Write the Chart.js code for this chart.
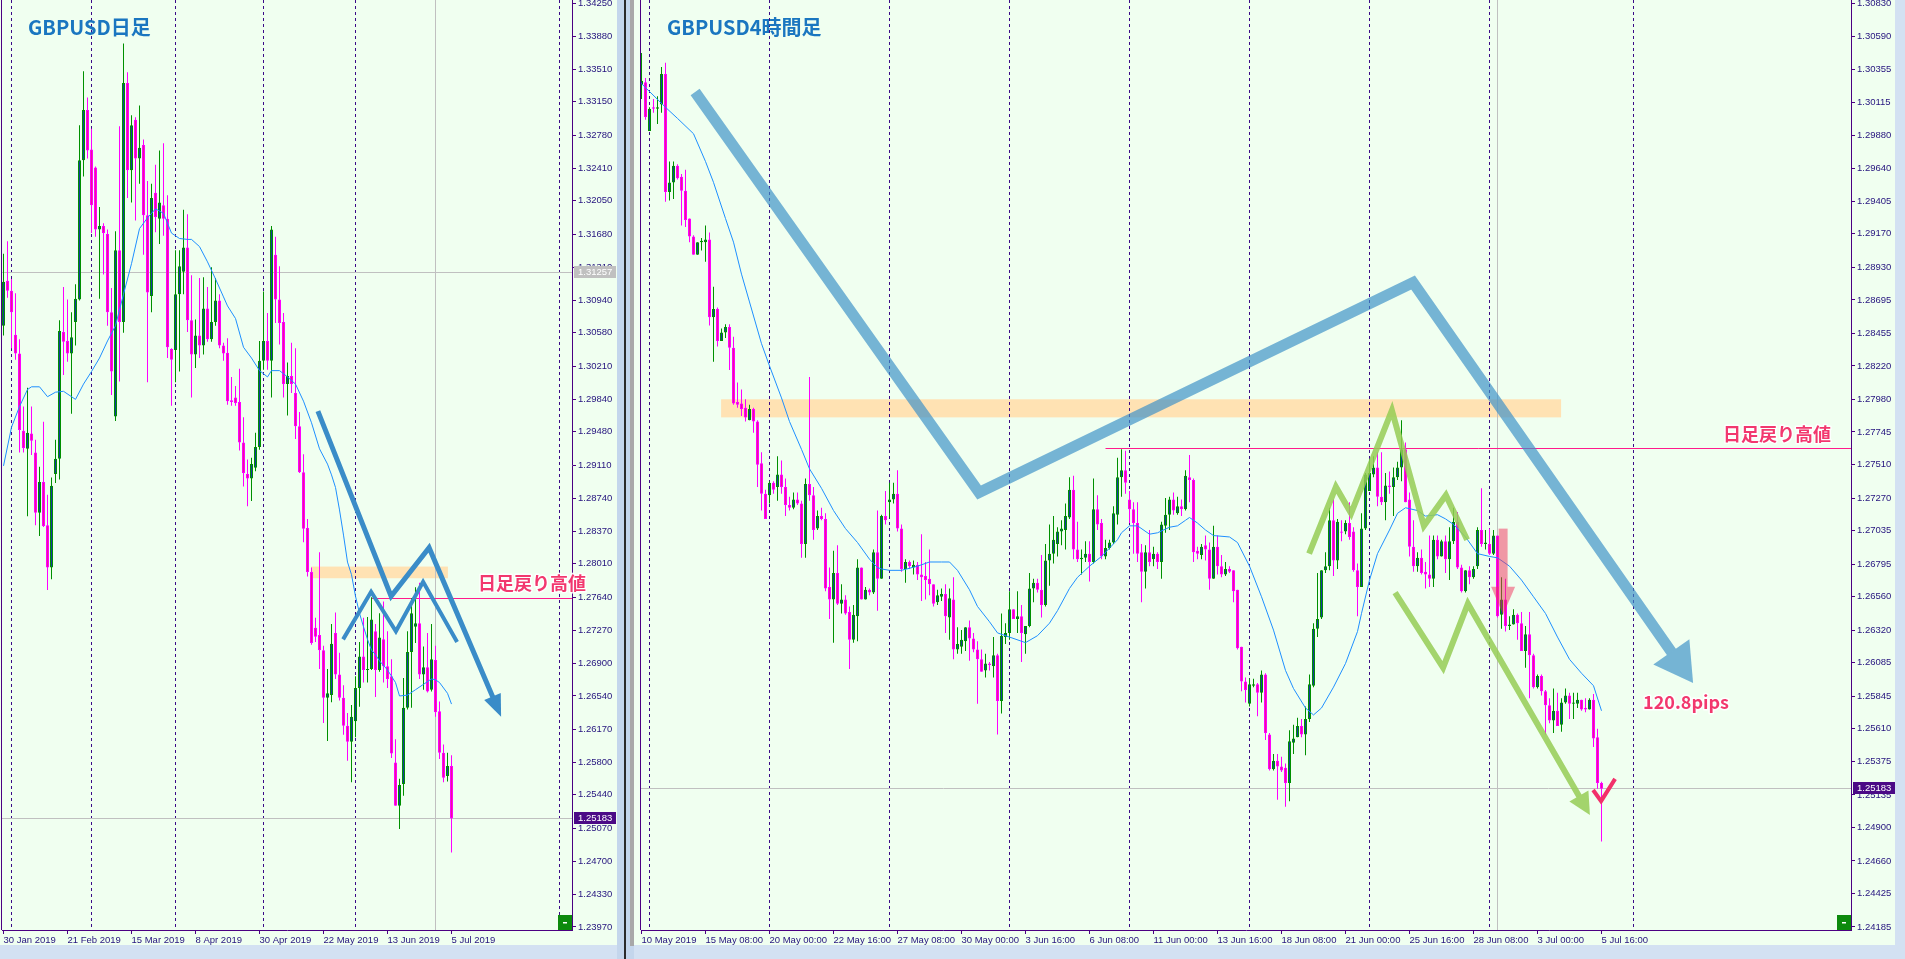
<!DOCTYPE html>
<html>
<head>
<meta charset="utf-8">
<script src="https://cdn.jsdelivr.net/npm/chart.js@4"></script>
<style>
  html, body { margin: 0; padding: 0; width: 1905px; height: 959px; overflow: hidden; background: #d3e1f2; }
  canvas { position: absolute; top: 0; background: #f0fff0; }
  .strip { position: absolute; }
</style>
</head>
<body>
<div class="strip" style="left:617px;top:0;width:17px;height:959px;background:#c4d6ec"></div>
<div class="strip" style="left:624px;top:0;width:2px;height:959px;background:#2a2a2a"></div>
<div class="strip" style="left:630px;top:0;width:4px;height:946px;background:#a8a8a8"></div>
<canvas id="day" width="617" height="945" style="left:0px"></canvas>
<canvas id="h4" width="1261" height="945" style="left:634px"></canvas>
<script>
// 1. Daten: linker Chart, GBPUSD Tageskerzen (30 Jan 2019 – 5 Jul 2019)
const dayLabels = ['30 Jan 2019', '21 Feb 2019', '15 Mar 2019', '8 Apr 2019', '30 Apr 2019', '22 May 2019', '13 Jun 2019', '5 Jul 2019'];
const dayLabelIdx = [0, 16, 32, 48, 64, 80, 96, 112];
const dayPriceTicks = [1.34250, 1.33880, 1.33510, 1.33150, 1.32780, 1.32410, 1.32050, 1.31680, 1.31310, 1.30940, 1.30580, 1.30210, 1.29840, 1.29480, 1.29110, 1.28740, 1.28370, 1.28010, 1.27640, 1.27270, 1.26900, 1.26540, 1.26170, 1.25800, 1.25440, 1.25070, 1.24700, 1.24330, 1.23970];

const dayOpen = [
  1.3066, 1.3116, 1.3105, 1.3056, 1.3035, 1.2949, 1.2929, 1.2946, 1.2925, 1.2858,
  1.2892, 1.2844, 1.2797, 1.2901, 1.2918, 1.3059, 1.3049, 1.3035, 1.3070, 1.3095,
  1.3250, 1.3306, 1.3262, 1.3242, 1.3173, 1.3177, 1.3168, 1.3081, 1.2965, 1.3150,
  1.3070, 1.3336, 1.3239, 1.3295, 1.3252, 1.3267, 1.3189, 1.3099, 1.3214, 1.3185,
  1.3200, 1.3185, 1.3040, 1.3039, 1.3101, 1.3126, 1.3153, 1.3072, 1.3034, 1.3055,
  1.3044, 1.3085, 1.3051, 1.3070, 1.3094, 1.3044, 1.3036, 1.2983, 1.2986, 1.2981,
  1.2936, 1.2901, 1.2896, 1.2908, 1.2931, 1.3027, 1.3049, 1.3027, 1.3145, 1.3095,
  1.3070, 1.3001, 1.3010, 1.2991, 1.2954, 1.2903, 1.2841, 1.2792, 1.2730, 1.2722,
  1.2705, 1.2652, 1.2655, 1.2724, 1.2678, 1.2652, 1.2621, 1.2603, 1.2626, 1.2663,
  1.2698, 1.2683, 1.2684, 1.2726, 1.2683, 1.2717, 1.2687, 1.2676, 1.2580, 1.2532,
  1.2556, 1.2641, 1.2703, 1.2731, 1.2735, 1.2678, 1.2686, 1.2661, 1.2694, 1.2637,
  1.2591, 1.2565, 1.2576];
const dayHigh = [
  1.3146, 1.3160, 1.3118, 1.3102, 1.3051, 1.2976, 1.2997, 1.2976, 1.2939, 1.2909,
  1.2959, 1.2878, 1.2897, 1.2939, 1.3072, 1.3109, 1.3095, 1.3081, 1.3112, 1.3289,
  1.3349, 1.3320, 1.3285, 1.3243, 1.3198, 1.3180, 1.3173, 1.3108, 1.3171, 1.3288,
  1.3380, 1.3348, 1.3300, 1.3298, 1.3311, 1.3273, 1.3227, 1.3224, 1.3245, 1.3261,
  1.3269, 1.3211, 1.3041, 1.3150, 1.3150, 1.3195, 1.3190, 1.3122, 1.3073, 1.3119,
  1.3120, 1.3109, 1.3131, 1.3119, 1.3101, 1.3047, 1.3052, 1.3009, 1.2999, 1.3018,
  1.2964, 1.2917, 1.2919, 1.2947, 1.3049, 1.3104, 1.3080, 1.3177, 1.3165, 1.3132,
  1.3080, 1.3025, 1.3047, 1.3041, 1.2970, 1.2923, 1.2851, 1.2797, 1.2741, 1.2814,
  1.2710, 1.2684, 1.2734, 1.2747, 1.2702, 1.2666, 1.2635, 1.2644, 1.2676, 1.2714,
  1.2741, 1.2742, 1.2764, 1.2734, 1.2746, 1.2759, 1.2726, 1.2695, 1.2606, 1.2562,
  1.2674, 1.2726, 1.2763, 1.2775, 1.2780, 1.2709, 1.2724, 1.2734, 1.2710, 1.2648,
  1.2600, 1.2591, 1.2588];
const dayLow = [
  1.3055, 1.3097, 1.3041, 1.3028, 1.2925, 1.2925, 1.2854, 1.2922, 1.2844, 1.2832,
  1.2842, 1.2772, 1.2784, 1.2891, 1.2895, 1.3011, 1.3026, 1.2968, 1.3044, 1.3094,
  1.3232, 1.3252, 1.3169, 1.3165, 1.3096, 1.3123, 1.3066, 1.2989, 1.2960, 1.3004,
  1.3058, 1.3208, 1.3203, 1.3183, 1.3224, 1.3145, 1.3003, 1.3081, 1.3170, 1.3157,
  1.3166, 1.3030, 1.2977, 1.3003, 1.3015, 1.3101, 1.3059, 1.2986, 1.3019, 1.3030,
  1.3034, 1.3048, 1.3048, 1.3066, 1.3041, 1.3027, 1.2978, 1.2977, 1.2977, 1.2927,
  1.2887, 1.2865, 1.2871, 1.2904, 1.2928, 1.3017, 1.3017, 1.2986, 1.3069, 1.3045,
  1.2986, 1.2966, 1.2991, 1.2940, 1.2902, 1.2825, 1.2787, 1.2711, 1.2714, 1.2684,
  1.2624, 1.2604, 1.2647, 1.2673, 1.2649, 1.2611, 1.2582, 1.2558, 1.2608, 1.2642,
  1.2669, 1.2669, 1.2683, 1.2653, 1.2681, 1.2669, 1.2663, 1.2585, 1.2532, 1.2506,
  1.2543, 1.2639, 1.2641, 1.2713, 1.2673, 1.2661, 1.2658, 1.2659, 1.2631, 1.2584,
  1.2558, 1.2559, 1.2480];
const dayClose = [
  1.3115, 1.3105, 1.3081, 1.3035, 1.2950, 1.2930, 1.2947, 1.2938, 1.2858, 1.2892,
  1.2843, 1.2797, 1.2888, 1.2918, 1.3060, 1.3048, 1.3035, 1.3053, 1.3096, 1.3250,
  1.3306, 1.3261, 1.3200, 1.3173, 1.3177, 1.3169, 1.3081, 1.3015, 1.3150, 1.3070,
  1.3336, 1.3239, 1.3289, 1.3252, 1.3264, 1.3189, 1.3103, 1.3208, 1.3187, 1.3203,
  1.3185, 1.3042, 1.3028, 1.3101, 1.3132, 1.3153, 1.3072, 1.3034, 1.3055, 1.3044,
  1.3085, 1.3051, 1.3070, 1.3094, 1.3044, 1.3035, 1.2982, 1.2981, 1.2980, 1.2936,
  1.2902, 1.2896, 1.2912, 1.2931, 1.3027, 1.3049, 1.3027, 1.3173, 1.3095, 1.3069,
  1.3001, 1.3010, 1.3001, 1.2954, 1.2903, 1.2840, 1.2792, 1.2713, 1.2720, 1.2705,
  1.2652, 1.2657, 1.2712, 1.2678, 1.2652, 1.2621, 1.2603, 1.2631, 1.2663, 1.2698,
  1.2683, 1.2684, 1.2739, 1.2683, 1.2719, 1.2687, 1.2673, 1.2590, 1.2532, 1.2555,
  1.2641, 1.2703, 1.2746, 1.2735, 1.2678, 1.2686, 1.2659, 1.2695, 1.2636, 1.2591,
  1.2563, 1.2576, 1.2518];

// gleitender Durchschnitt (Kerzenindex / Kurs)
const dayMaIdx = [0, 2, 4, 6, 7, 9, 11, 13, 15, 17, 18, 20, 22, 24, 26, 28, 30, 32, 34, 36, 38, 40, 42, 44, 46, 47, 49, 51, 53, 55, 56, 58, 60, 62, 64, 66, 67, 69, 71, 73, 75, 77, 79, 81, 82, 83, 84, 85, 86, 87, 88, 89, 90, 91, 92, 93, 94, 96, 98, 99, 101, 103, 105, 107, 108, 109, 111, 112];
const dayMaVal = [1.2910, 1.2953, 1.2976, 1.2995, 1.2998, 1.2998, 1.2987, 1.2992, 1.2993, 1.2987, 1.2984, 1.3001, 1.3015, 1.3030, 1.3049, 1.3066, 1.3101, 1.3135, 1.3174, 1.3186, 1.3196, 1.3191, 1.3169, 1.3163, 1.3162, 1.3162, 1.3154, 1.3137, 1.3118, 1.3098, 1.3088, 1.3074, 1.3042, 1.3030, 1.3016, 1.3009, 1.3016, 1.3016, 1.3009, 1.3001, 1.2982, 1.2958, 1.2929, 1.2912, 1.2900, 1.2886, 1.2861, 1.2833, 1.2803, 1.2789, 1.2765, 1.2746, 1.2731, 1.2717, 1.2705, 1.2700, 1.2693, 1.2683, 1.2669, 1.2654, 1.2655, 1.2661, 1.2667, 1.2673, 1.2672, 1.2669, 1.2657, 1.2645];

// Zeichnungen im Tageschart (Kerzenindex / Kurs)
const daySeparatorIdx = [2, 22, 43, 65, 88, 139];
const dayArrowIdx = [78.6, 96.9, 106.4, 124.4];
const dayArrowPrice = [1.2971, 1.2765, 1.2819, 1.2631];
const dayZigIdx = [84.9, 91.9, 98.1, 104.9, 113.4];
const dayZigPrice = [1.2717, 1.2770, 1.2726, 1.2781, 1.2714];
const dayBandIdx = [76.9, 111.1];
const dayResistStart = 92;
const dayNoteAt = [118.6, 1.2779];

// 2. Daten: rechter Chart, GBPUSD 4-Stunden-Kerzen (10 May 16:00 – 5 Jul 16:00)
const h4Labels = ['10 May 2019', '15 May 08:00', '20 May 00:00', '22 May 16:00', '27 May 08:00', '30 May 00:00', '3 Jun 16:00', '6 Jun 08:00', '11 Jun 00:00', '13 Jun 16:00', '18 Jun 08:00', '21 Jun 00:00', '25 Jun 16:00', '28 Jun 08:00', '3 Jul 00:00', '5 Jul 16:00'];
const h4LabelIdx = [0, 16, 32, 48, 64, 80, 96, 112, 128, 144, 160, 176, 192, 208, 224, 240];
const h4PriceTicks = [1.30830, 1.30590, 1.30355, 1.30115, 1.29880, 1.29640, 1.29405, 1.29170, 1.28930, 1.28695, 1.28455, 1.28220, 1.27980, 1.27745, 1.27510, 1.27270, 1.27035, 1.26795, 1.26560, 1.26320, 1.26085, 1.25845, 1.25610, 1.25375, 1.25135, 1.24900, 1.24660, 1.24425, 1.24185];

const h4Open = [
  1.3024, 1.3026, 1.2991, 1.3008, 1.3007, 1.3010, 1.3032, 1.2947, 1.2954, 1.2966,
  1.2958, 1.2948, 1.2928, 1.2915, 1.2902, 1.2911, 1.2911, 1.2913, 1.2857, 1.2863,
  1.2840, 1.2846, 1.2850, 1.2835, 1.2796, 1.2795, 1.2792, 1.2783, 1.2791, 1.2782,
  1.2752, 1.2730, 1.2729, 1.2738, 1.2735, 1.2744, 1.2735, 1.2722, 1.2720, 1.2726,
  1.2723, 1.2694, 1.2737, 1.2729, 1.2705, 1.2714, 1.2712, 1.2663, 1.2654, 1.2673,
  1.2651, 1.2654, 1.2645, 1.2625, 1.2642, 1.2677, 1.2654, 1.2661, 1.2659, 1.2688,
  1.2669, 1.2714, 1.2724, 1.2726, 1.2730, 1.2705, 1.2676, 1.2681, 1.2677, 1.2679,
  1.2672, 1.2671, 1.2669, 1.2665, 1.2652, 1.2656, 1.2658, 1.2641, 1.2654, 1.2618,
  1.2620, 1.2624, 1.2634, 1.2626, 1.2618, 1.2611, 1.2603, 1.2608, 1.2606, 1.2614,
  1.2581, 1.2627, 1.2630, 1.2647, 1.2640, 1.2642, 1.2629, 1.2635, 1.2662, 1.2666,
  1.2661, 1.2650, 1.2682, 1.2687, 1.2694, 1.2703, 1.2704, 1.2713, 1.2733, 1.2690,
  1.2683, 1.2684, 1.2687, 1.2681, 1.2719, 1.2709, 1.2685, 1.2691, 1.2695, 1.2715,
  1.2742, 1.2747, 1.2726, 1.2719, 1.2709, 1.2688, 1.2674, 1.2688, 1.2683, 1.2687,
  1.2681, 1.2707, 1.2715, 1.2726, 1.2716, 1.2721, 1.2719, 1.2742, 1.2740, 1.2689,
  1.2686, 1.2693, 1.2690, 1.2669, 1.2692, 1.2678, 1.2672, 1.2676, 1.2675, 1.2661,
  1.2620, 1.2595, 1.2579, 1.2592, 1.2593, 1.2587, 1.2600, 1.2557, 1.2532, 1.2538,
  1.2534, 1.2533, 1.2522, 1.2551, 1.2555, 1.2563, 1.2557, 1.2568, 1.2592, 1.2633,
  1.2641, 1.2675, 1.2678, 1.2711, 1.2682, 1.2703, 1.2703, 1.2709, 1.2703, 1.2675,
  1.2663, 1.2705, 1.2732, 1.2744, 1.2749, 1.2728, 1.2724, 1.2736, 1.2735, 1.2742,
  1.2749, 1.2762, 1.2726, 1.2692, 1.2678, 1.2684, 1.2674, 1.2672, 1.2669, 1.2697,
  1.2685, 1.2696, 1.2683, 1.2696, 1.2710, 1.2677, 1.2660, 1.2675, 1.2670, 1.2678,
  1.2704, 1.2694, 1.2694, 1.2687, 1.2700, 1.2643, 1.2654, 1.2635, 1.2636, 1.2643,
  1.2637, 1.2617, 1.2629, 1.2614, 1.2591, 1.2599, 1.2588, 1.2578, 1.2567, 1.2574,
  1.2564, 1.2580, 1.2585, 1.2579, 1.2579, 1.2582, 1.2576, 1.2575, 1.2582, 1.2555,
  1.2522];
const h4High = [
  1.3047, 1.3029, 1.3008, 1.3014, 1.3016, 1.3037, 1.3040, 1.2969, 1.2969, 1.2967,
  1.2960, 1.2963, 1.2928, 1.2916, 1.2911, 1.2914, 1.2923, 1.2918, 1.2879, 1.2864,
  1.2849, 1.2852, 1.2852, 1.2843, 1.2810, 1.2805, 1.2798, 1.2794, 1.2792, 1.2783,
  1.2760, 1.2733, 1.2739, 1.2739, 1.2757, 1.2754, 1.2741, 1.2728, 1.2731, 1.2731,
  1.2725, 1.2741, 1.2814, 1.2735, 1.2718, 1.2720, 1.2716, 1.2677, 1.2689, 1.2693,
  1.2665, 1.2657, 1.2649, 1.2650, 1.2683, 1.2677, 1.2663, 1.2662, 1.2690, 1.2718,
  1.2715, 1.2732, 1.2738, 1.2738, 1.2747, 1.2708, 1.2683, 1.2682, 1.2682, 1.2681,
  1.2701, 1.2681, 1.2690, 1.2665, 1.2661, 1.2662, 1.2665, 1.2662, 1.2670, 1.2634,
  1.2632, 1.2634, 1.2639, 1.2630, 1.2624, 1.2618, 1.2615, 1.2609, 1.2627, 1.2615,
  1.2644, 1.2637, 1.2660, 1.2647, 1.2660, 1.2650, 1.2635, 1.2673, 1.2669, 1.2669,
  1.2686, 1.2694, 1.2708, 1.2714, 1.2706, 1.2711, 1.2723, 1.2742, 1.2743, 1.2710,
  1.2690, 1.2696, 1.2696, 1.2741, 1.2729, 1.2712, 1.2697, 1.2697, 1.2721, 1.2756,
  1.2762, 1.2761, 1.2732, 1.2724, 1.2724, 1.2694, 1.2693, 1.2704, 1.2692, 1.2688,
  1.2710, 1.2727, 1.2728, 1.2731, 1.2728, 1.2726, 1.2747, 1.2758, 1.2741, 1.2692,
  1.2694, 1.2700, 1.2695, 1.2707, 1.2700, 1.2686, 1.2681, 1.2678, 1.2675, 1.2661,
  1.2620, 1.2598, 1.2597, 1.2597, 1.2594, 1.2603, 1.2601, 1.2558, 1.2543, 1.2543,
  1.2541, 1.2536, 1.2560, 1.2564, 1.2569, 1.2568, 1.2577, 1.2600, 1.2637, 1.2673,
  1.2675, 1.2688, 1.2720, 1.2726, 1.2712, 1.2711, 1.2711, 1.2724, 1.2706, 1.2680,
  1.2716, 1.2745, 1.2755, 1.2757, 1.2760, 1.2760, 1.2745, 1.2746, 1.2749, 1.2753,
  1.2783, 1.2767, 1.2731, 1.2711, 1.2688, 1.2690, 1.2681, 1.2700, 1.2700, 1.2700,
  1.2697, 1.2700, 1.2706, 1.2720, 1.2717, 1.2679, 1.2675, 1.2678, 1.2678, 1.2706,
  1.2734, 1.2704, 1.2705, 1.2704, 1.2700, 1.2670, 1.2669, 1.2642, 1.2647, 1.2644,
  1.2645, 1.2635, 1.2645, 1.2615, 1.2600, 1.2600, 1.2589, 1.2583, 1.2590, 1.2587,
  1.2583, 1.2590, 1.2587, 1.2587, 1.2587, 1.2582, 1.2583, 1.2583, 1.2586, 1.2561,
  1.2523];
const h4Low = [
  1.3014, 1.2999, 1.2991, 1.3004, 1.2996, 1.3004, 1.2940, 1.2941, 1.2942, 1.2956,
  1.2923, 1.2922, 1.2911, 1.2902, 1.2902, 1.2905, 1.2897, 1.2851, 1.2825, 1.2836,
  1.2840, 1.2842, 1.2819, 1.2794, 1.2792, 1.2786, 1.2782, 1.2783, 1.2774, 1.2735,
  1.2718, 1.2712, 1.2723, 1.2730, 1.2725, 1.2730, 1.2714, 1.2718, 1.2719, 1.2722,
  1.2684, 1.2684, 1.2725, 1.2697, 1.2704, 1.2711, 1.2660, 1.2640, 1.2623, 1.2650,
  1.2644, 1.2643, 1.2604, 1.2623, 1.2624, 1.2654, 1.2654, 1.2657, 1.2658, 1.2646,
  1.2669, 1.2708, 1.2713, 1.2723, 1.2703, 1.2674, 1.2666, 1.2676, 1.2672, 1.2668,
  1.2653, 1.2654, 1.2657, 1.2649, 1.2650, 1.2653, 1.2630, 1.2625, 1.2611, 1.2615,
  1.2615, 1.2617, 1.2610, 1.2616, 1.2579, 1.2602, 1.2598, 1.2603, 1.2598, 1.2557,
  1.2572, 1.2622, 1.2625, 1.2640, 1.2630, 1.2609, 1.2615, 1.2634, 1.2652, 1.2659,
  1.2641, 1.2649, 1.2664, 1.2680, 1.2685, 1.2693, 1.2690, 1.2712, 1.2683, 1.2681,
  1.2672, 1.2681, 1.2667, 1.2680, 1.2704, 1.2683, 1.2683, 1.2690, 1.2694, 1.2708,
  1.2728, 1.2730, 1.2709, 1.2687, 1.2681, 1.2652, 1.2662, 1.2678, 1.2678, 1.2676,
  1.2669, 1.2702, 1.2704, 1.2715, 1.2715, 1.2714, 1.2718, 1.2724, 1.2681, 1.2683,
  1.2683, 1.2682, 1.2661, 1.2669, 1.2672, 1.2670, 1.2671, 1.2673, 1.2652, 1.2618,
  1.2588, 1.2580, 1.2577, 1.2591, 1.2570, 1.2580, 1.2553, 1.2531, 1.2531, 1.2510,
  1.2530, 1.2505, 1.2509, 1.2543, 1.2555, 1.2555, 1.2542, 1.2566, 1.2591, 1.2627,
  1.2640, 1.2673, 1.2675, 1.2671, 1.2676, 1.2696, 1.2701, 1.2697, 1.2674, 1.2642,
  1.2663, 1.2704, 1.2732, 1.2742, 1.2721, 1.2722, 1.2711, 1.2730, 1.2714, 1.2740,
  1.2739, 1.2724, 1.2685, 1.2674, 1.2674, 1.2672, 1.2662, 1.2663, 1.2663, 1.2683,
  1.2685, 1.2673, 1.2668, 1.2694, 1.2676, 1.2659, 1.2659, 1.2665, 1.2669, 1.2676,
  1.2692, 1.2690, 1.2686, 1.2686, 1.2641, 1.2633, 1.2631, 1.2632, 1.2636, 1.2625,
  1.2617, 1.2605, 1.2583, 1.2590, 1.2590, 1.2585, 1.2557, 1.2565, 1.2558, 1.2563,
  1.2559, 1.2579, 1.2568, 1.2568, 1.2576, 1.2574, 1.2573, 1.2575, 1.2548, 1.2518,
  1.2480];
const h4Close = [
  1.3027, 1.3001, 1.3007, 1.3007, 1.3008, 1.3032, 1.2947, 1.2954, 1.2966, 1.2957,
  1.2948, 1.2927, 1.2915, 1.2902, 1.2911, 1.2912, 1.2913, 1.2857, 1.2863, 1.2840,
  1.2846, 1.2850, 1.2835, 1.2795, 1.2794, 1.2791, 1.2785, 1.2791, 1.2782, 1.2751,
  1.2730, 1.2712, 1.2738, 1.2733, 1.2744, 1.2735, 1.2722, 1.2720, 1.2726, 1.2723,
  1.2694, 1.2737, 1.2729, 1.2704, 1.2714, 1.2712, 1.2662, 1.2654, 1.2673, 1.2651,
  1.2654, 1.2644, 1.2625, 1.2643, 1.2677, 1.2654, 1.2661, 1.2659, 1.2688, 1.2669,
  1.2714, 1.2711, 1.2726, 1.2730, 1.2705, 1.2676, 1.2681, 1.2678, 1.2679, 1.2672,
  1.2670, 1.2668, 1.2665, 1.2651, 1.2657, 1.2658, 1.2642, 1.2655, 1.2618, 1.2622,
  1.2625, 1.2634, 1.2626, 1.2618, 1.2611, 1.2602, 1.2608, 1.2607, 1.2614, 1.2581,
  1.2628, 1.2630, 1.2647, 1.2640, 1.2642, 1.2630, 1.2635, 1.2662, 1.2666, 1.2661,
  1.2650, 1.2682, 1.2687, 1.2697, 1.2703, 1.2705, 1.2714, 1.2733, 1.2690, 1.2683,
  1.2684, 1.2687, 1.2681, 1.2719, 1.2708, 1.2685, 1.2691, 1.2695, 1.2716, 1.2742,
  1.2747, 1.2738, 1.2719, 1.2709, 1.2687, 1.2674, 1.2688, 1.2681, 1.2687, 1.2681,
  1.2708, 1.2715, 1.2726, 1.2718, 1.2721, 1.2719, 1.2743, 1.2740, 1.2688, 1.2687,
  1.2692, 1.2690, 1.2669, 1.2692, 1.2678, 1.2672, 1.2676, 1.2674, 1.2660, 1.2619,
  1.2595, 1.2589, 1.2593, 1.2593, 1.2587, 1.2600, 1.2558, 1.2532, 1.2538, 1.2534,
  1.2531, 1.2522, 1.2552, 1.2554, 1.2563, 1.2557, 1.2568, 1.2593, 1.2633, 1.2640,
  1.2675, 1.2678, 1.2711, 1.2682, 1.2710, 1.2702, 1.2709, 1.2699, 1.2675, 1.2663,
  1.2705, 1.2744, 1.2745, 1.2749, 1.2728, 1.2724, 1.2736, 1.2735, 1.2742, 1.2749,
  1.2762, 1.2724, 1.2692, 1.2678, 1.2684, 1.2673, 1.2672, 1.2669, 1.2697, 1.2685,
  1.2696, 1.2683, 1.2696, 1.2710, 1.2677, 1.2660, 1.2675, 1.2670, 1.2676, 1.2704,
  1.2694, 1.2695, 1.2687, 1.2700, 1.2642, 1.2654, 1.2635, 1.2636, 1.2643, 1.2637,
  1.2617, 1.2629, 1.2614, 1.2591, 1.2599, 1.2588, 1.2578, 1.2567, 1.2574, 1.2563,
  1.2580, 1.2585, 1.2579, 1.2580, 1.2582, 1.2575, 1.2575, 1.2582, 1.2554, 1.2522,
  1.2518];

const h4MaIdx = [0, 6, 9, 13, 16, 18, 21, 23, 25, 27, 30, 32, 35, 37, 40, 42, 45, 48, 51, 54, 57, 59, 60, 62, 65, 69, 72, 75, 77, 79, 82, 84, 87, 89, 92, 96, 99, 102, 104, 107, 109, 112, 115, 118, 119, 120, 122, 124, 127, 129, 132, 134, 136, 137, 139, 141, 143, 147, 149, 152, 155, 158, 161, 163, 166, 168, 170, 173, 176, 179, 180, 182, 184, 187, 189, 191, 194, 196, 199, 201, 203, 206, 209, 212, 214, 217, 220, 223, 226, 229, 232, 235, 238, 240];
const h4MaVal = [1.3025, 1.3008, 1.3000, 1.2989, 1.2969, 1.2954, 1.2928, 1.2911, 1.2888, 1.2868, 1.2838, 1.2822, 1.2799, 1.2782, 1.2762, 1.2748, 1.2734, 1.2718, 1.2705, 1.2695, 1.2683, 1.2677, 1.2676, 1.2675, 1.2675, 1.2678, 1.2681, 1.2681, 1.2681, 1.2675, 1.2661, 1.2649, 1.2638, 1.2630, 1.2627, 1.2623, 1.2628, 1.2637, 1.2646, 1.2662, 1.2670, 1.2678, 1.2685, 1.2694, 1.2697, 1.2702, 1.2707, 1.2707, 1.2701, 1.2702, 1.2706, 1.2707, 1.2711, 1.2713, 1.2709, 1.2704, 1.2700, 1.2699, 1.2695, 1.2678, 1.2656, 1.2632, 1.2603, 1.2590, 1.2576, 1.2571, 1.2576, 1.2591, 1.2608, 1.2631, 1.2644, 1.2668, 1.2687, 1.2704, 1.2716, 1.2720, 1.2718, 1.2714, 1.2715, 1.2712, 1.2708, 1.2699, 1.2687, 1.2685, 1.2684, 1.2678, 1.2668, 1.2656, 1.2644, 1.2627, 1.2611, 1.2601, 1.2592, 1.2574];

// Zeichnungen im 4h-Chart
const h4SeparatorIdx = [2, 32, 62, 92, 122, 152, 182, 212, 248];
const h4ArrowIdx = [13.4, 84.4, 192.9, 262.9];
const h4ArrowPrice = [1.3019, 1.2731, 1.2882, 1.2594];
const h4UpperIdx = [166.9, 173.6, 177.4, 187.6, 195.6, 201.1, 206.4];
const h4UpperPrice = [1.2687, 1.2735, 1.2716, 1.2790, 1.2707, 1.2729, 1.2697];
const h4LowerIdx = [188.4, 200.4, 206.6, 237.1];
const h4LowerPrice = [1.2659, 1.2605, 1.2651, 1.2499];
const h4DropIdx = 215.4;
const h4DropPrice = [1.2705, 1.2643];
const h4CheckIdx = [237.9, 239.9, 243.4];
const h4CheckPrice = [1.2517, 1.2509, 1.2525];
const h4BandIdx = [19.9, 229.9];
const h4ResistStart = 116;
const h4NoteAt = [270.4, 1.2773];
const h4PipsAt = [250.4, 1.2580];

// gemeinsame Werte
const bandPrice = [1.2785, 1.2798];   // orangene Zone
const resistPrice = 1.2763;           // 日足戻り高値
const lastPrice = 1.25183;
const dayMarkPrice = 1.31257;

// 3. Farben und Hilfsfunktionen
const AXIS = '#4b0082';
const LABEL = '#24137e';
const SEPARATOR = '#3a0a88';
const TICK_FONT = { family: 'Liberation Sans', size: 9.5 };

function P(chart, i, p) {
  return [chart.scales.x.getPixelForValue(i), chart.scales.y.getPixelForValue(p)];
}

function pathLine(ctx, pts, color, width) {
  ctx.beginPath();
  pts.forEach((q, k) => k ? ctx.lineTo(q[0], q[1]) : ctx.moveTo(q[0], q[1]));
  ctx.strokeStyle = color;
  ctx.lineWidth = width;
  ctx.lineJoin = 'miter';
  ctx.lineCap = 'butt';
  ctx.stroke();
}

// Linienzug mit Pfeilspitze am letzten Punkt
function arrow(ctx, pts, color, width, headLen, headHalf) {
  const n = pts.length, tip = pts[n - 1], prev = pts[n - 2];
  const len = Math.hypot(tip[0] - prev[0], tip[1] - prev[1]);
  const ux = (tip[0] - prev[0]) / len, uy = (tip[1] - prev[1]) / len;
  const base = [tip[0] - ux * headLen, tip[1] - uy * headLen];
  pathLine(ctx, pts.slice(0, n - 1).concat([[base[0] + ux, base[1] + uy]]), color, width);
  ctx.beginPath();
  ctx.moveTo(tip[0], tip[1]);
  ctx.lineTo(base[0] - uy * headHalf, base[1] + ux * headHalf);
  ctx.lineTo(base[0] + uy * headHalf, base[1] - ux * headHalf);
  ctx.closePath();
  ctx.fillStyle = color;
  ctx.fill();
}

// halbtransparente Ebene, damit Überlappungen nicht dunkler werden
function glassLayer(chart, alpha, draw) {
  const off = document.createElement('canvas');
  off.width = chart.width; off.height = chart.height;
  draw(off.getContext('2d'));
  const ctx = chart.ctx, a = chart.chartArea;
  ctx.save();
  ctx.beginPath(); ctx.rect(a.left, a.top, a.right - a.left, a.bottom - a.top); ctx.clip();
  ctx.globalAlpha = alpha;
  ctx.drawImage(off, 0, 0);
  ctx.restore();
}

function clipArea(chart) {
  const a = chart.chartArea, ctx = chart.ctx;
  ctx.save();
  ctx.beginPath(); ctx.rect(a.left, a.top, a.right - a.left, a.bottom - a.top); ctx.clip();
}

function vLine(chart, i, color, dash) {
  const ctx = chart.ctx, a = chart.chartArea;
  const x = Math.floor(chart.scales.x.getPixelForValue(i)) + 0.5;
  ctx.beginPath(); ctx.setLineDash(dash); ctx.moveTo(x, a.top); ctx.lineTo(x, a.bottom);
  ctx.strokeStyle = color; ctx.lineWidth = 1; ctx.stroke(); ctx.setLineDash([]);
}

function hLine(chart, p, x0, color) {
  const ctx = chart.ctx, a = chart.chartArea;
  const y = Math.round(chart.scales.y.getPixelForValue(p)) + 0.5;
  ctx.beginPath(); ctx.moveTo(x0, y); ctx.lineTo(a.right, y);
  ctx.strokeStyle = color; ctx.lineWidth = 1; ctx.stroke();
}

function band(chart, i0, i1) {
  const [x0, y0] = P(chart, i0, bandPrice[1]);
  const [x1, y1] = P(chart, i1, bandPrice[0]);
  chart.ctx.fillStyle = '#ffe2b3';
  chart.ctx.fillRect(x0, y0, x1 - x0, y1 - y0);
}

function priceBox(chart, p, bg) {
  const ctx = chart.ctx, a = chart.chartArea;
  const y = Math.round(chart.scales.y.getPixelForValue(p));
  ctx.fillStyle = bg;
  ctx.fillRect(a.right + 2, y - 6, 42, 12);
  ctx.fillStyle = '#ffffff';
  ctx.font = '9.5px "Liberation Sans"';
  ctx.textBaseline = 'middle'; ctx.textAlign = 'left';
  ctx.fillText(p.toFixed(5), a.right + 6, y + 0.5);
}

function label(chart, text, i, p, size, color, halo) {
  const ctx = chart.ctx;
  const [x, y] = P(chart, i, p);
  ctx.font = 'bold ' + size + 'px "Noto Sans CJK JP"';
  ctx.textBaseline = 'middle'; ctx.textAlign = 'left';
  if (halo) { ctx.lineWidth = 3; ctx.strokeStyle = 'rgba(255,255,255,0.9)'; ctx.lineJoin = 'round'; ctx.strokeText(text, x, y); }
  ctx.fillStyle = color;
  ctx.fillText(text, x, y);
}

function chrome(chart, title) {
  const ctx = chart.ctx, a = chart.chartArea;
  // linker Rand der Zeichenfläche
  ctx.fillStyle = AXIS;
  ctx.fillRect(a.left - 1, a.top, 1, a.bottom - a.top);
  // Titel
  ctx.font = 'bold 20px "Noto Sans CJK JP"';
  ctx.fillStyle = '#1a76c0';
  ctx.textBaseline = 'middle'; ctx.textAlign = 'left';
  ctx.fillText(title, a.left + 26, 27);
  // kleines grünes Feld unten rechts
  ctx.fillStyle = '#0c8a0c';
  ctx.fillRect(a.right - 14, a.bottom - 15, 14, 15);
  ctx.fillStyle = '#ffffff';
  ctx.fillRect(a.right - 9, a.bottom - 8, 4, 1.5);
}

// 4. Zeichnungen pro Chart
const dayDecor = {
  id: 'dayDecor',
  beforeDatasetsDraw(chart) {
    clipArea(chart);
    band(chart, dayBandIdx[0], dayBandIdx[1]);
    daySeparatorIdx.forEach(i => vLine(chart, i, SEPARATOR, [3, 3]));
    vLine(chart, 108, '#c0c0c0', []);
    hLine(chart, dayMarkPrice, chart.chartArea.left, '#c0c0c0');
    hLine(chart, lastPrice, chart.chartArea.left, '#c0c0c0');
    hLine(chart, resistPrice, P(chart, dayResistStart, 0)[0], '#ff1a8c');
    chart.ctx.restore();
  },
  afterDatasetsDraw(chart) {
    const ctx = chart.ctx;
    clipArea(chart);
    arrow(ctx, dayArrowIdx.map((i, k) => P(chart, i, dayArrowPrice[k])), '#3a8cc8', 5, 22, 9);
    pathLine(ctx, dayZigIdx.map((i, k) => P(chart, i, dayZigPrice[k])), '#3a8cc8', 4);
    ctx.restore();
    label(chart, '日足戻り高値', dayNoteAt[0], dayNoteAt[1], 18, '#f2386e', true);
    priceBox(chart, dayMarkPrice, '#c0c0c0');
    priceBox(chart, lastPrice, '#4b0a86');
    chrome(chart, 'GBPUSD日足');
  }
};

const h4Decor = {
  id: 'h4Decor',
  beforeDatasetsDraw(chart) {
    clipArea(chart);
    band(chart, h4BandIdx[0], h4BandIdx[1]);
    h4SeparatorIdx.forEach(i => vLine(chart, i, SEPARATOR, [3, 3]));
    vLine(chart, 214, '#c0c0c0', []);
    hLine(chart, lastPrice, chart.chartArea.left, '#c0c0c0');
    hLine(chart, resistPrice, P(chart, h4ResistStart, 0)[0], '#ff1a8c');
    chart.ctx.restore();
  },
  afterDatasetsDraw(chart) {
    const ctx = chart.ctx;
    // große blaue Welle
    glassLayer(chart, 0.68, c => arrow(c, h4ArrowIdx.map((i, k) => P(chart, i, h4ArrowPrice[k])), 'rgb(60,145,200)', 11, 38, 22));
    // grüne Zickzacklinien
    glassLayer(chart, 0.85, c => {
      pathLine(c, h4UpperIdx.map((i, k) => P(chart, i, h4UpperPrice[k])), 'rgb(150,205,85)', 6);
      arrow(c, h4LowerIdx.map((i, k) => P(chart, i, h4LowerPrice[k])), 'rgb(150,205,85)', 6, 22, 11);
    });
    // kleiner roter Pfeil
    glassLayer(chart, 0.5, c => arrow(c, [P(chart, h4DropIdx, h4DropPrice[0]), P(chart, h4DropIdx, h4DropPrice[1])], 'rgb(240,50,90)', 9, 28, 12));
    clipArea(chart);
    pathLine(ctx, h4CheckIdx.map((i, k) => P(chart, i, h4CheckPrice[k])), '#f2306a', 4);
    ctx.restore();
    label(chart, '日足戻り高値', h4NoteAt[0], h4NoteAt[1], 18, '#f2386e', true);
    label(chart, '120.8pips', h4PipsAt[0], h4PipsAt[1], 18, '#f2386e', true);
    priceBox(chart, lastPrice, '#4b0a86');
    chrome(chart, 'GBPUSD4時間足');
  }
};

// 5. Konfiguration: Kerzen als schwebende Balken (Docht + Körper)
function candleChart(id, o, h, l, c, maIdx, maVal, xMin, xMax, yMin, yMax, xIdx, xLabels, yTicks, padLeft, axisWidth, plugin) {
  const up = c.map((v, i) => v >= o[i]);
  const config = {
    type: 'bar',
    data: {
      datasets: [
        {
          type: 'line',
          data: maIdx.map((x, k) => ({ x: x, y: maVal[k] })),
          borderColor: '#1e8fff', borderWidth: 1, pointRadius: 0, tension: 0, order: 0
        },
        {
          data: l.map((v, i) => ({ x: i, y: [v, h[i]] })),   // Dochte
          backgroundColor: up.map(u => u ? '#009000' : '#ff00ff'),
          barThickness: 1, grouped: false, minBarLength: 1, inflateAmount: 0, order: 2
        },
        {
          data: o.map((v, i) => ({ x: i, y: [v, c[i]] })),    // Körper
          backgroundColor: up.map(u => u ? '#163a9c' : '#f0109a'),
          borderColor: up.map(u => u ? '#009000' : '#ff00ff'),
          borderWidth: 1, borderSkipped: false,
          barThickness: 3, grouped: false, minBarLength: 1, inflateAmount: 0, order: 1
        }
      ]
    },
    options: {
      responsive: false,
      animation: false,
      events: [],
      layout: { padding: { left: padLeft, top: 0, right: 0, bottom: 0 } },
      plugins: { legend: { display: false }, tooltip: { enabled: false } },
      scales: {
        x: {
          type: 'linear', min: xMin, max: xMax, offset: false,
          afterBuildTicks: s => { s.ticks = xIdx.map(v => ({ value: v })); },
          afterFit: s => { s.height = 15; s.paddingLeft = 0; s.paddingRight = 0; },
          ticks: { autoSkip: false, maxRotation: 0, align: 'start', padding: 1, font: TICK_FONT, color: LABEL, callback: (v, k) => xLabels[k] },
          grid: { drawOnChartArea: false, tickLength: 4, color: AXIS, offset: false },
          border: { color: AXIS, width: 1 }
        },
        y: {
          type: 'linear', position: 'right', min: yMin, max: yMax,
          afterBuildTicks: s => { s.ticks = yTicks.map(v => ({ value: v })); },
          afterFit: s => { s.width = axisWidth; s.paddingTop = 0; s.paddingBottom = 0; },
          ticks: { autoSkip: false, padding: 2, font: TICK_FONT, color: LABEL, callback: v => v.toFixed(5) },
          grid: { drawOnChartArea: false, tickLength: 4, color: AXIS },
          border: { color: AXIS, width: 1 }
        }
      }
    },
    plugins: [plugin]
  };
  return new Chart(document.getElementById(id), config);
}

// 6. Diagramme erzeugen
candleChart('day', dayOpen, dayHigh, dayLow, dayClose, dayMaIdx, dayMaVal,
  -0.375, 142.125, 1.239366, 1.342834, dayLabelIdx, dayLabels, dayPriceTicks, 2, 45, dayDecor);
candleChart('h4', h4Open, h4High, h4Low, h4Close, h4MaIdx, h4MaVal,
  -0.125, 302.375, 1.241634, 1.308516, h4LabelIdx, h4Labels, h4PriceTicks, 7, 44, h4Decor);
</script>
</body>
</html>
